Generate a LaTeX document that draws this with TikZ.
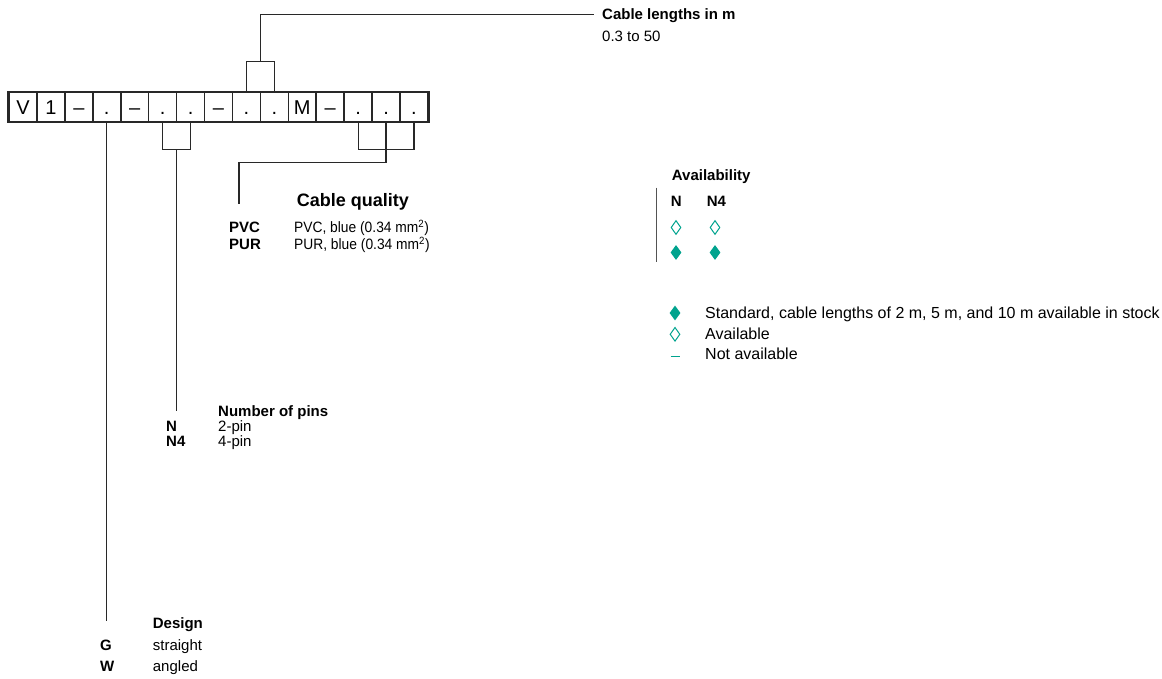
\documentclass[tikz,border=0pt]{standalone}
\usepackage{fontspec}
\setmainfont{Liberation Sans}
\newfontfamily\narrowfont[FakeStretch=0.92]{Liberation Sans}
\usepackage{tikz}
\usetikzlibrary{positioning,calc,shapes.geometric}
\definecolor{availteal}{RGB}{0,163,142}
\definecolor{wireblack}{RGB}{40,40,40}

\begin{document}
\begin{tikzpicture}[x=1pt,y=-1pt,
  cell/.style={draw=wireblack,line width=1.6pt,minimum width=27.93pt,minimum height=29pt,inner sep=0pt,text height=15pt,text depth=0pt,font=\fontsize{20}{20}\selectfont},
  lbl/.style={anchor=base west,inner sep=0pt,font=\fontsize{15}{18}\selectfont},
  key/.style={lbl,font=\fontsize{15}{18}\selectfont\bfseries},
  legtxt/.style={lbl,font=\fontsize{16}{18}\selectfont},
  wire/.style={draw=wireblack,line width=1.2pt},
  fulldia/.style={diamond,fill=availteal,inner sep=0pt,minimum width=11pt,minimum height=15pt},
  opendia/.style={diamond,draw=availteal,line width=1pt,inner sep=0pt,minimum width=10pt,minimum height=14pt}]
  \useasboundingbox (0,0) rectangle (1162,679);

  % Type code
  \foreach \t [count=\i] in {V,1,–,.,–,.,.,–,.,.,M,–,.,.,.}
    \node[cell] (c\i) at ({9+27.93*(\i-0.5)},107) {\t};
  \draw[wireblack,line width=2pt] (c1.north west) rectangle (c15.south east);

  % Cable lengths
  \node[key] (lenhead) at (602,20) {Cable lengths in m};
  \node[lbl] (lenval) at (602,41.7) {0.3 to 50};
  \coordinate (lentop) at ($(c9.north)!0.5!(c10.north)+(0,-30.5)$);
  \draw[wire] (c9.north) |- (lentop) -| (c10.north);
  \draw[wire] (lentop) |- ([xshift=-8pt,yshift=1.5pt]lenhead.west);

  % Cable quality
  \node[lbl,font=\fontsize{18}{20}\selectfont\bfseries] (qualhead) at (296.7,206.7) {Cable quality};
  \node[key] (pvckey) at (229,232.7) {PVC};
  \node[lbl,font=\fontsize{15}{18}\narrowfont] (pvctxt) at (294,232.7) {PVC, blue (0.34 mm\textsuperscript{2})};
  \node[key] (purkey) at (229,249.3) {PUR};
  \node[lbl,font=\fontsize{15}{18}\narrowfont] (purtxt) at (294,249.3) {PUR, blue (0.34 mm\textsuperscript{2})};
  \coordinate (qualbot) at ($(c13.south)+(0,27.3)$);
  \coordinate (qualend) at (239,204);
  \draw[wire] (c13.south) |- (qualbot) -| (c15.south);
  \draw[wire] (c14.south) -- ++(0,40.6) -| (qualend);

  % Number of pins
  \node[key] (pinhead) at (218,416) {Number of pins};
  \node[key] (nkey) at (166,431) {N};
  \node[lbl] (ntxt) at (218,431) {2-pin};
  \node[key] (nfkey) at (166,446.7) {N4};
  \node[lbl] (nftxt) at (218,446.7) {4-pin};
  \coordinate (pinbot) at ($(c6.south)!0.5!(c7.south)+(0,27.3)$);
  \coordinate (pinend) at (pinbot |- 0,410.7);
  \draw[wire] (c6.south) |- (pinbot) -| (c7.south);
  \draw[wire] (pinbot) -- (pinend);

  % Design
  \node[key] (deshead) at (152.7,628.3) {Design};
  \node[key] (gkey) at (100,650) {G};
  \node[lbl] (gtxt) at (152.7,650) {straight};
  \node[key] (wkey) at (100,671.7) {W};
  \node[lbl] (wtxt) at (152.7,671.7) {angled};
  \coordinate (desend) at (c4.south |- 0,621);
  \draw[wire] (c4.south) -- (desend);

  % Availability
  \node[key] (availhead) at (671.7,180.7) {Availability};
  \node[key] (availn) at (670.7,206.7) {N};
  \node[key] (availnf) at (706.7,206.7) {N4};
  \node[opendia] (pvcn) at (676,227.5) {};
  \node[opendia] (pvcnf) at (715,227.5) {};
  \node[fulldia] (purn) at (676,252.5) {};
  \node[fulldia] (purnf) at (715,252.5) {};
  \draw[wireblack!80,line width=1pt] (656,187.7) -- (656,261.7);

  % Legend
  \node[fulldia] (legstd) at (675,313) {};
  \node[legtxt] (legstdtxt) at (705,318.3) {Standard, cable lengths of 2 m, 5 m, and 10 m available in stock};
  \node[opendia] (legavl) at (675,334.3) {};
  \node[legtxt] (legavltxt) at (705,339) {Available};
  \draw[availteal,line width=1.6pt] (670.5,356.5) -- (679.5,356.5);
  \node[legtxt] (legnonetxt) at (705,359.3) {Not available};
\end{tikzpicture}
\end{document}
